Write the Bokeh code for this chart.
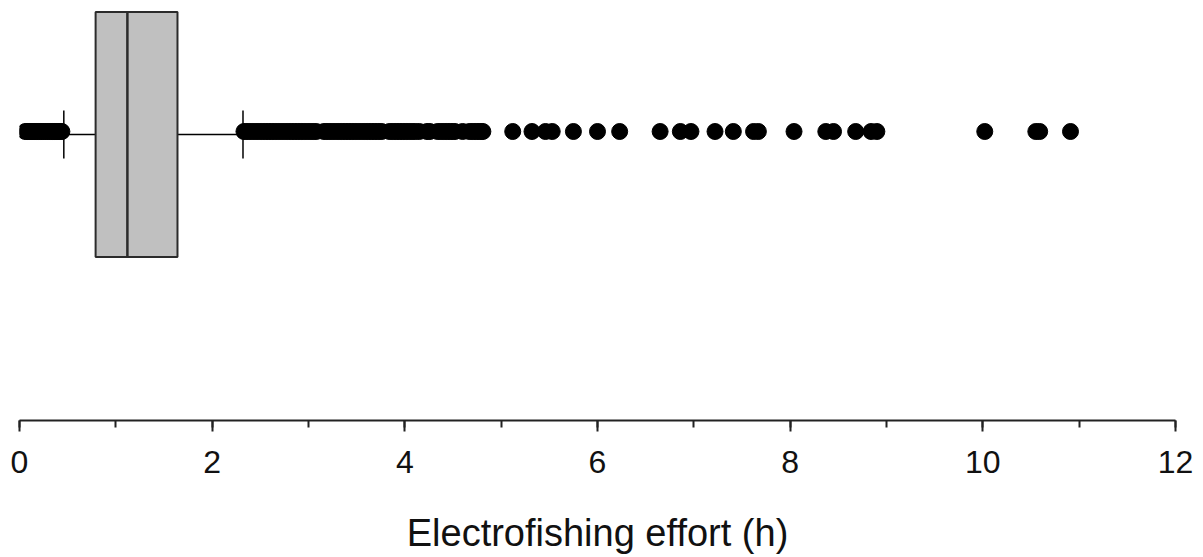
from bokeh.plotting import figure
from bokeh.models import Range1d, SingleIntervalTicker, ColumnDataSource
from bokeh.embed import file_html
from bokeh.resources import INLINE

# Box-plot summary of electrofishing effort (hours)
q1 = 0.79
median = 1.12
q3 = 1.64
whisker_low = 0.46
whisker_high = 2.32

# Outlying observations below the lower whisker
low_outliers = [0.06, 0.08, 0.10, 0.12, 0.14, 0.16, 0.18, 0.20, 0.22, 0.24,
                0.26, 0.28, 0.30, 0.32, 0.34, 0.36, 0.38, 0.40, 0.42, 0.44]

# Outlying observations above the upper whisker
high_outliers = [
    2.33, 2.36, 2.39, 2.42, 2.45, 2.48, 2.51, 2.54, 2.57, 2.60, 2.63, 2.66,
    2.69, 2.72, 2.75, 2.78, 2.81, 2.84, 2.87, 2.90, 2.93, 2.96, 2.99, 3.02,
    3.05, 3.08,
    3.16, 3.19, 3.22, 3.25, 3.28, 3.31, 3.34, 3.37, 3.40, 3.43, 3.46, 3.49,
    3.52, 3.55, 3.58, 3.61, 3.64, 3.67, 3.70, 3.73, 3.76,
    3.84, 3.87, 3.90, 3.93, 3.96, 3.99, 4.02, 4.05, 4.08, 4.11, 4.15,
    4.23, 4.26,
    4.34, 4.37, 4.40, 4.43, 4.46, 4.49, 4.52,
    4.60,
    4.67, 4.70, 4.73, 4.76, 4.79, 4.81,
    5.12, 5.32, 5.46, 5.53, 5.75, 6.00, 6.23, 6.65, 6.86, 6.97, 7.22, 7.41,
    7.62, 7.67, 8.04, 8.37, 8.45, 8.68, 8.84, 8.90, 10.02, 10.55, 10.59, 10.91,
]

x_ticks_interval = 2
x_min, x_max = 0, 12
axis_title = "Electrofishing effort (h)"

FONT = "Liberation Sans"

p = figure(
    width=1203, height=557,
    x_range=Range1d(x_min, x_max),
    y_range=Range1d(-286, 134),
    output_backend="svg", toolbar_location=None,
    y_axis_location=None,
    min_border_left=19, min_border_right=28,
    min_border_top=0, min_border_bottom=137,
)
p.outline_line_color = None
p.xgrid.visible = False
p.ygrid.visible = False
p.background_fill_color = "white"
p.border_fill_color = "white"

box_half = 122.5
cap_half = 24
row_y = 0

# whiskers
p.segment(x0=[whisker_low, q3], y0=[row_y, row_y], x1=[q1, whisker_high], y1=[row_y, row_y],
          line_color="black", line_width=1.5)
p.segment(x0=[whisker_low, whisker_high], y0=[row_y - cap_half] * 2,
          x1=[whisker_low, whisker_high], y1=[row_y + cap_half] * 2,
          line_color="black", line_width=1.5)

# box
p.quad(left=[q1], right=[q3], bottom=[row_y - box_half], top=[row_y + box_half],
       fill_color="#C0C0C0", line_color="#2b2b2b", line_width=2)
p.segment(x0=[median], y0=[row_y - box_half], x1=[median], y1=[row_y + box_half],
          line_color="#2b2b2b", line_width=2.5)

# outliers
outliers = low_outliers + high_outliers
src = ColumnDataSource(dict(x=outliers, y=[row_y + 3] * len(outliers)))
p.scatter("x", "y", source=src, marker="circle", size=16,
          fill_color="black", line_color="black")

ax = p.xaxis[0]
ax.ticker = SingleIntervalTicker(interval=x_ticks_interval, num_minor_ticks=2)
ax.axis_line_color = "#222222"
ax.axis_line_width = 2
ax.major_tick_line_color = "#222222"
ax.major_tick_line_width = 2
ax.minor_tick_line_color = "#222222"
ax.minor_tick_line_width = 2
ax.major_tick_in = 0
ax.major_tick_out = 11
ax.minor_tick_in = 0
ax.minor_tick_out = 7
ax.major_label_text_font = FONT
ax.major_label_text_font_size = "32px"
ax.major_label_text_color = "#111111"
ax.major_label_standoff = 19
ax.axis_label = axis_title
ax.axis_label_text_font = FONT
ax.axis_label_text_font_size = "38px"
ax.axis_label_text_font_style = "normal"
ax.axis_label_text_color = "#111111"
ax.axis_label_standoff = 36

open("out.html", "w").write(file_html(p, INLINE))
